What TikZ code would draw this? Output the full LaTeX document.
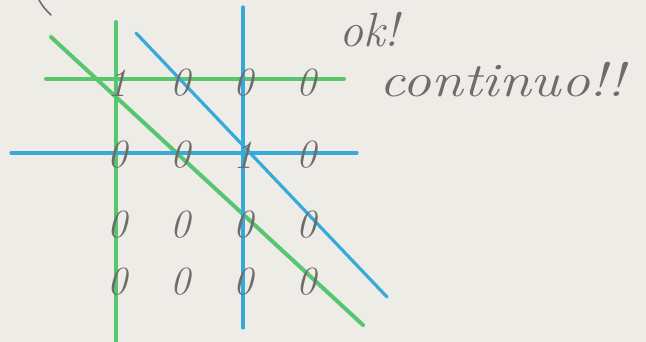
\documentclass[tikz,border=0pt]{standalone}
\usepackage{xcolor}
\definecolor{paper}{HTML}{EEECE7}
\definecolor{pencil}{HTML}{6F6D6B}
\definecolor{mkgreen}{HTML}{58C56F}
\definecolor{mkblue}{HTML}{38AADA}
\usetikzlibrary{calc}

\begin{document}
\begin{tikzpicture}[x=1pt,y=-1pt,
  dg/.style={font=\fontsize{40}{40}\selectfont\itshape, text=pencil, inner sep=0pt},
  note/.style={font=\fontsize{48}{48}\selectfont\itshape, text=pencil, inner sep=0pt},
  gline/.style={draw=mkgreen, line width=4pt, line cap=round},
  bline/.style={draw=mkblue, line width=3.2pt, line cap=round}
]
  \fill[paper] (0,0) rectangle (646,342);
  \useasboundingbox (0,0) rectangle (646,342);

  %% line ends
  \coordinate (gvt) at (116,22);  \coordinate (gvb) at (116,345);
  \coordinate (bvt) at (243,7);   \coordinate (bvb) at (243,328);
  \coordinate (ghl) at (46,79);   \coordinate (ghr) at (344,79);
  \coordinate (bhl) at (11,153);  \coordinate (bhr) at (357,153);
  \coordinate (gdt) at (51,37);   \coordinate (gdb) at (363,325);
  \coordinate (bdt) at (136,33);  \coordinate (bdb) at (387,297);

  %% marker lines
  \draw[gline] (gvt) -- (gvb);
  \draw[gline] (ghl) -- (ghr);
  \draw[gline] (gdt) -- (gdb);
  \draw[bline] (bvt) -- (bvb);
  \draw[bline] (bhl) -- (bhr);
  \draw[bline] (bdt) -- (bdb);

  %% grid of digits
  \foreach \y/\row [count=\r] in {83/{1,0,0,0},155/{0,0,1,0},225/{0,0,0,0},282/{0,0,0,0}}
    \foreach \v [count=\c] in \row
      \node[dg] (d\r\c) at ({54+63*\c},\y) {\v};

  %% remarks
  \node[note] (ok) at (369,30) {ok!};
  \node[note, xscale=1.2, transform shape] (cont) at (502,80) {continuo!!};

  %% stray pencil stroke
  \draw[pencil, line width=1.6pt, line cap=round] (39,0) .. controls (44,8) .. (51,15);
\end{tikzpicture}
\end{document}
